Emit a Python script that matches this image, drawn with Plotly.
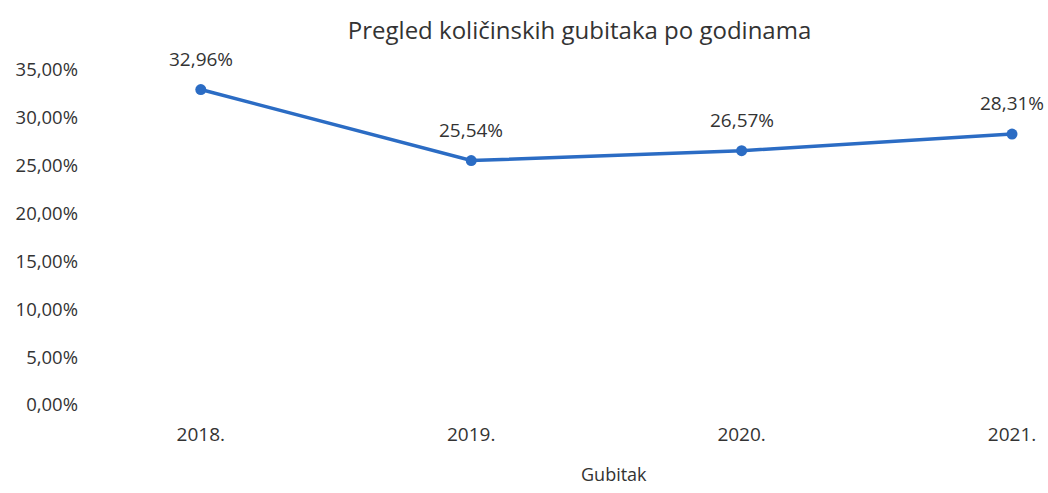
import plotly.graph_objects as go

categories = ["2018.", "2019.", "2020.", "2021."]
values = [0.3296, 0.2554, 0.2657, 0.2831]
value_labels = ["32,96%", "25,54%", "26,57%", "28,31%"]
y_ticks = [0, 0.05, 0.10, 0.15, 0.20, 0.25, 0.30, 0.35]
y_tick_labels = ["0,00%", "5,00%", "10,00%", "15,00%", "20,00%", "25,00%", "30,00%", "35,00%"]
series_name = "Gubitak"
title = "Pregled količinskih gubitaka po godinama"

blue = "#2B6CC4"
txt = "#333333"
font_family = "Open Sans, sans-serif"

idx = list(range(len(categories)))

fig = go.Figure()
fig.add_trace(go.Scatter(
    x=idx, y=values, mode="lines+markers", name=series_name,
    line=dict(color=blue, width=3.5),
    marker=dict(color=blue, size=11),
    showlegend=False,
))

for i, v, t in zip(idx, values, value_labels):
    fig.add_annotation(x=i, y=v, text=t, showarrow=False, yshift=31,
                       font=dict(size=19, color=txt, family=font_family))

fig.add_annotation(xref="paper", yref="paper", x=0.549, y=-0.206, yanchor="middle",
                   text=series_name, showarrow=False,
                   font=dict(size=18, color=txt, family=font_family))

fig.update_layout(
    width=1048, height=493,
    margin=dict(l=112, r=20, t=70, b=88),
    paper_bgcolor="white", plot_bgcolor="white",
    title=dict(text=title, x=0.553, xanchor="center", y=0.937, yanchor="middle",
               font=dict(size=24, color=txt, family=font_family)),
    font=dict(family=font_family, color=txt),
)
fig.update_xaxes(range=[-0.3284, 3.0517], tickvals=idx, ticktext=categories,
                 showgrid=False, showline=False, zeroline=False, ticks="",
                 ticklabelstandoff=16, tickfont=dict(size=19, color=txt))
fig.update_yaxes(range=[0, 0.35], tickvals=y_ticks, ticktext=y_tick_labels, showgrid=False,
                 zeroline=False, showline=False, ticks="", ticklabelstandoff=33,
                 tickfont=dict(size=18.5, color=txt))

fig.write_html("out.html", config={"displayModeBar": False},
               post_script="document.body.style.margin='0';")
